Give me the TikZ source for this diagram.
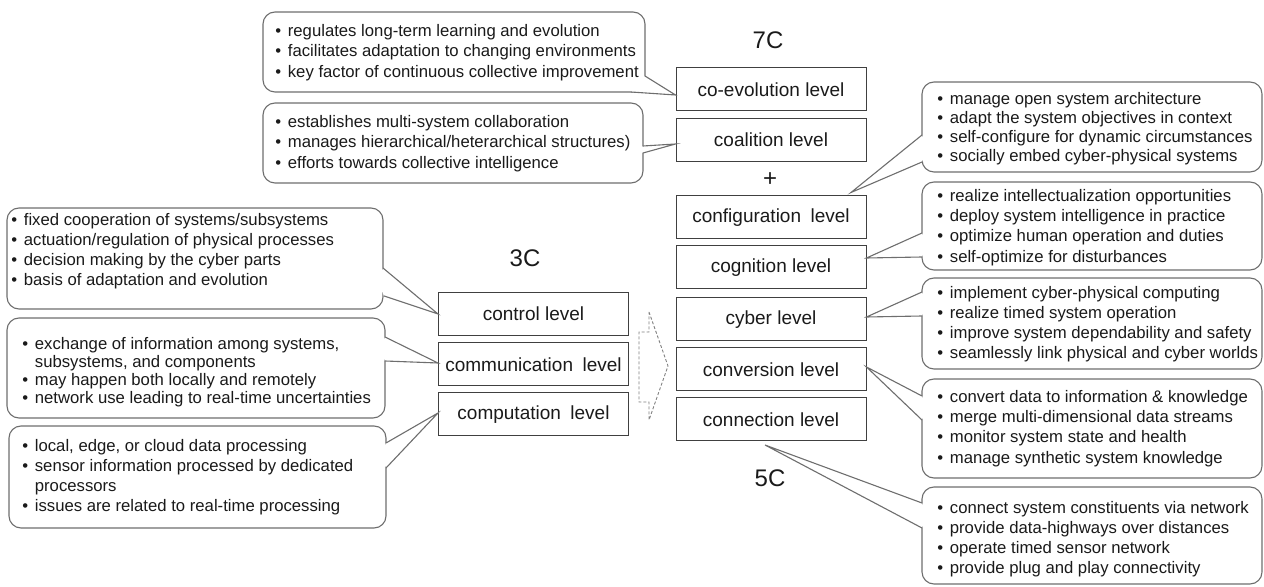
\documentclass[tikz,border=0pt]{standalone}
\usepackage{fontspec}
\setmainfont{Liberation Sans}
\usetikzlibrary{calc}
\definecolor{callline}{HTML}{6E6E6E}
\definecolor{boxline}{HTML}{404040}
\definecolor{ink}{HTML}{1A1A1A}
\newcommand\bul{\makebox[6.25pt][l]{\textbullet}}
\newcommand\cont{\hspace*{6.25pt}}
\tikzset{
  lvl/.style={draw=boxline, line width=0.5pt, minimum width=95pt, minimum height=21.5pt,
    inner sep=0pt, text=ink, font=\fontsize{9.5}{11}\selectfont},
  callbox/.style={draw=callline, line width=0.55pt, rounded corners=6pt, fill=white},
  callcover/.style={fill=white},
  callptr/.style={draw=callline, line width=0.55pt, line join=miter},
  calltext/.style={anchor=west, align=left, inner sep=0pt, text=ink,
    font=\fontsize{8.35}{10.1}\selectfont},
  biglabel/.style={inner sep=0pt, text=ink, font=\fontsize{12}{14}\selectfont},
  shiftarrow/.style={draw=gray, line width=0.45pt, dash pattern=on 1.5pt off 1pt}
}
\begin{document}
\begin{tikzpicture}[x=0.5pt,y=-0.5pt]
\useasboundingbox (0,0) rectangle (1264,587);

% ---------- level boxes ----------
\node[lvl] (control) at (533.5,314) {control level};
\node[lvl] (communication) at (533.5,364.5) {communication\enspace level};
\node[lvl] (computation) at (533.5,414.5) {computation\enspace level};

\node[lvl] (coevolution) at (771,89.5) {co-evolution level};
\node[lvl] (coalition) at (771,140) {coalition level};
\node[lvl] (configuration) at (771,217.5) {configuration\enspace level};
\node[lvl] (cognition) at (771,267.5) {cognition level};
\node[lvl] (cyber) at (771,319.5) {cyber level};
\node[lvl] (conversion) at (771,369.5) {conversion level};
\node[lvl] (connection) at (771,419.5) {connection level};

% ---------- group labels ----------
\node[biglabel] (lab7c) at (768,40) {7C};
\node[biglabel] (labplus) at (770,180) {+};
\node[biglabel] (lab3c) at (525,258) {3C};
\node[biglabel] (lab5c) at (770,478) {5C};

% ---------- 3C -> 5C transition arrow ----------
\draw[shiftarrow] (649,312) -- (668,366) -- (649,420) -- (649,402) -- (639,402)
  -- (639,332) -- (649,332) -- cycle;

% ---------- callouts of the 7C levels ----------
% co-evolution
\draw[callbox] (263,12) rectangle (645,92);
\coordinate (ceA) at (645,76); \coordinate (ceB) at (631,92);
\coordinate (ceT) at ($(coevolution.west)+(0,5.5)$);
\fill[callcover] (ceA) -- (ceT) -- (ceB) -- (636,84) -- cycle;
\draw[callptr] (ceA) -- (ceT) -- (ceB);
\node[calltext] (tCoevo) at (275,52.5) {\bul regulates long-term learning and evolution\\
  \bul facilitates adaptation to changing environments\\
  \bul key factor of continuous collective improvement};

% coalition
\draw[callbox] (263,103) rectangle (643,183);
\coordinate (caA) at (643,146); \coordinate (caB) at (643,153);
\coordinate (caT) at ($(coalition.west)+(0,4)$);
\fill[callcover] (caA) -- (caT) -- (caB) -- (639,150) -- cycle;
\draw[callptr] (caA) -- (caT) -- (caB);
\node[calltext] (tCoal) at (275,143.5) {\bul establishes multi-system collaboration\\
  \bul manages hierarchical/heterarchical structures)\\
  \bul efforts towards collective intelligence};

% ---------- callouts of the 3C levels ----------
% control
\draw[callbox] (7,208) rectangle (383,309);
\coordinate (coA) at (383,268); \coordinate (coB) at (384,296);
\coordinate (coT) at (control.west);
\fill[callcover] (coA) -- (coT) -- (coB) -- (378,282) -- cycle;
\draw[callptr] (coA) -- (coT) -- (coB);
\node[calltext] (tCtrl) at (11,251) {\bul fixed cooperation of systems/subsystems\\
  \bul actuation/regulation of physical processes\\
  \bul decision making by the cyber parts\\
  \bul basis of adaptation and evolution};

% communication
\draw[callbox] (7,318) rectangle (385,418);
\coordinate (cmA) at (385,337); \coordinate (cmB) at (385,361);
\coordinate (cmT) at ($(communication.west)+(0,-1.5)$);
\fill[callcover] (cmA) -- (cmT) -- (cmB) -- (380,349) -- cycle;
\draw[callptr] (cmA) -- (cmT) -- (cmB);
\node[calltext, font=\fontsize{8.35}{9.1}\selectfont] (tComm) at (22,372)
  {\bul exchange of information among systems,\\
  \cont subsystems, and components\\
  \bul may happen both locally and remotely\\
  \bul network use leading to real-time uncertainties};

% computation
\draw[callbox] (9,426) rectangle (386,528);
\coordinate (cpA) at (386,443); \coordinate (cpB) at (386,468);
\coordinate (cpT) at ($(computation.west)+(0,-1.5)$);
\fill[callcover] (cpA) -- (cpT) -- (cpB) -- (381,455) -- cycle;
\draw[callptr] (cpA) -- (cpT) -- (cpB);
\node[calltext] (tComp) at (22,477) {\bul local, edge, or cloud data processing\\
  \bul sensor information processed by dedicated\\
  \cont processors\\
  \bul issues are related to real-time processing};

% ---------- callouts of the 5C levels ----------
% configuration
\draw[callbox] (922,82) rectangle (1262,172);
\coordinate (cfA) at (922,135); \coordinate (cfB) at (922,162);
\coordinate (cfT) at ($(configuration.north)+(80,-3)$);
\fill[callcover] (cfA) -- (cfT) -- (cfB) -- (927,148) -- cycle;
\draw[callptr] (cfA) -- (cfT) -- (cfB);
\node[calltext, font=\fontsize{8.35}{9.6}\selectfont] (tConf) at (937,128.5)
  {\bul manage open system architecture\\
  \bul adapt the system objectives in context\\
  \bul self-configure for dynamic circumstances\\
  \bul socially embed cyber-physical systems};

% cognition
\draw[callbox] (922,182) rectangle (1262,270);
\coordinate (cgA) at (922,233); \coordinate (cgB) at (922,257);
\coordinate (cgT) at ($(cognition.east)+(0,-9.5)$);
\fill[callcover] (cgA) -- (cgT) -- (cgB) -- (927,245) -- cycle;
\draw[callptr] (cgA) -- (cgT) -- (cgB);
\node[calltext] (tCogn) at (937,227.5) {\bul realize intellectualization opportunities\\
  \bul deploy system intelligence in practice\\
  \bul optimize human operation and duties\\
  \bul self-optimize for disturbances};

% cyber
\draw[callbox] (922,278) rectangle (1262,369);
\coordinate (cyA) at (922,292); \coordinate (cyB) at (922,316);
\coordinate (cyT) at ($(cyber.east)+(0,-2.5)$);
\fill[callcover] (cyA) -- (cyT) -- (cyB) -- (927,304) -- cycle;
\draw[callptr] (cyA) -- (cyT) -- (cyB);
\node[calltext] (tCyb) at (937,324) {\bul implement cyber-physical computing\\
  \bul realize timed system operation\\
  \bul improve system dependability and safety\\
  \bul seamlessly link physical and cyber worlds};

% conversion
\draw[callbox] (922,379) rectangle (1262,478);
\coordinate (cvA) at (922,396); \coordinate (cvB) at (922,420);
\coordinate (cvT) at ($(conversion.east)+(0,-2.5)$);
\fill[callcover] (cvA) -- (cvT) -- (cvB) -- (927,408) -- cycle;
\draw[callptr] (cvA) -- (cvT) -- (cvB);
\node[calltext] (tConv) at (937,428.5) {\bul convert data to information \& knowledge\\
  \bul merge multi-dimensional data streams\\
  \bul monitor system state and health\\
  \bul manage synthetic system knowledge};

% connection
\draw[callbox] (922,487) rectangle (1262,584);
\coordinate (cnA) at (922,503); \coordinate (cnB) at (922,528);
\coordinate (cnT) at ($(connection.south)+(-6,3.5)$);
\fill[callcover] (cnA) -- (cnT) -- (cnB) -- (927,515) -- cycle;
\draw[callptr] (cnA) -- (cnT) -- (cnB);
\node[calltext] (tConn) at (937,539) {\bul connect system constituents via network\\
  \bul provide data-highways over distances\\
  \bul operate timed sensor network\\
  \bul provide plug and play connectivity};
\end{tikzpicture}
\end{document}
